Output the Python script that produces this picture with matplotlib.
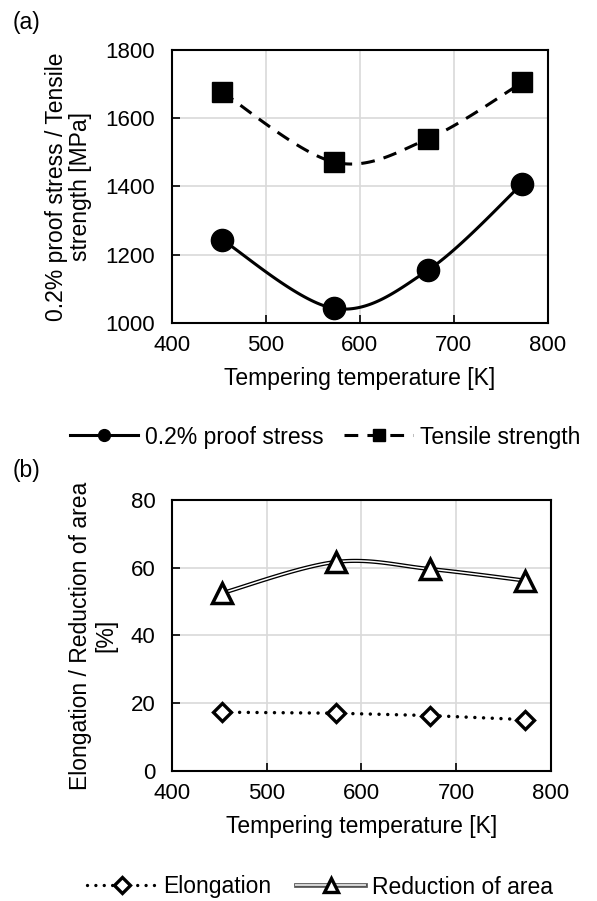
import numpy as np
import matplotlib
matplotlib.use("Agg")
import matplotlib.pyplot as plt
from matplotlib.lines import Line2D
from matplotlib.legend_handler import HandlerTuple
import matplotlib.patheffects as pe

plt.rcParams['font.family'] = ['Liberation Sans', 'DejaVu Sans']

# tempering temperature [K]
temp = [453, 573, 673, 773]

# (a) strength [MPa]
proof_stress = [1244, 1042, 1155, 1408]
tensile_strength = [1677, 1471, 1540, 1705]

# (b) ductility [%]
elongation = [17.3, 17.0, 16.3, 15.1]
reduction_area = [52.5, 61.7, 59.6, 56.2]

x_ticks = [400, 500, 600, 700, 800]
xlabel = 'Tempering temperature [K]'


def smooth(x, y, n=40):
    # Bezier curve through the points with Catmull-Rom tangents (like a spreadsheet "smoothed line")
    p = np.column_stack([x, y]).astype(float)
    pts = np.vstack([p[0], p, p[-1]])
    out = []
    t = np.linspace(0, 1, n)[:, None]
    for i in range(1, len(pts) - 2):
        p0, p3 = pts[i], pts[i + 1]
        p1 = p0 + (pts[i + 1] - pts[i - 1]) / 6
        p2 = p3 - (pts[i + 2] - pts[i]) / 6
        seg = ((1 - t) ** 3) * p0 + 3 * ((1 - t) ** 2) * t * p1 + 3 * (1 - t) * t ** 2 * p2 + t ** 3 * p3
        out.append(seg if i == 1 else seg[1:])
    c = np.vstack(out)
    return c[:, 0], c[:, 1]


def style_axes(ax):
    ax.set_xlim(400, 800)
    ax.set_xticks(x_ticks)
    ax.grid(True, color='#d9d9d9', lw=1.2)
    ax.set_axisbelow(True)
    for s in ax.spines.values():
        s.set_linewidth(1.5)
    ax.tick_params(direction='in', length=6, width=1.2, labelsize=16)
    ax.tick_params(axis='x', pad=9)
    ax.tick_params(axis='y', pad=12)
    ax.set_xlabel(xlabel, fontsize=16.5, labelpad=8)


fig = plt.figure(figsize=(5.97, 9.01), dpi=100)

# ---- (a) proof stress / tensile strength
ax1 = fig.add_axes([0.2881, 0.6418, 0.6293, 0.3027])
style_axes(ax1)
ax1.set_ylim(1000, 1800)
ax1.set_yticks([1000, 1200, 1400, 1600, 1800])

sx, sy = smooth(temp, proof_stress)
ax1.plot(sx, sy, color='black', lw=2.2, zorder=3)
ax1.plot(temp, proof_stress, ls='none', marker='o', ms=16, color='black', zorder=4)

sx, sy = smooth(temp, tensile_strength)
ax1.plot(sx, sy, color='black', lw=2.2, ls=(0, (4.5, 3)), zorder=3)
ax1.plot(temp, tensile_strength, ls='none', marker='s', ms=14.5, color='black', zorder=4)

ax1.set_ylabel('0.2% proof stress / Tensile\nstrength [MPa]', fontsize=16.5, linespacing=1.05)
ax1.yaxis.set_label_coords(-0.213, 0.5)

h1 = Line2D([], [], color='black', lw=2.2, marker='o', ms=8.5)
h2 = Line2D([], [], color='black', lw=2.2, ls=(0, (4.5, 3)), marker='s', ms=8)
fig.legend([h1, h2], ['0.2% proof stress', 'Tensile strength'],
           loc='center', bbox_to_anchor=(325 / 597, 1 - 437 / 901), ncol=2,
           frameon=False, fontsize=16.5, handlelength=3.0, handletextpad=0.3,
           columnspacing=0.9, borderpad=0, borderaxespad=0)

fig.text(13 / 597, 1 - 23 / 901, '(a)', fontsize=16.5, va='center', ha='left')

# ---- (b) elongation / reduction of area
ax2 = fig.add_axes([0.2881, 0.1446, 0.6343, 0.3004])
style_axes(ax2)
ax2.set_ylim(0, 80)
ax2.set_yticks([0, 20, 40, 60, 80])

dots = (0, (0.01, 2.5))
ax2.plot(temp, elongation, color='black', lw=2.5, ls=dots, dash_capstyle='round', zorder=3)
ax2.plot(temp, elongation, ls='none', marker='D', ms=9, mfc='white', mec='black', mew=2.4, zorder=4)

double = [pe.Stroke(linewidth=3.0, foreground='black'), pe.Normal()]
sx, sy = smooth(temp, reduction_area)
ax2.plot(sx, sy, color='white', lw=1.1, path_effects=double, zorder=3)
ax2.plot(temp, reduction_area, ls='none', marker='^', ms=14.5, mfc='white', mec='black', mew=2.5, zorder=4)

ax2.set_ylabel('Elongation / Reduction of area\n[%]', fontsize=16.5, linespacing=1.15)
ax2.yaxis.set_label_coords(-0.143, 0.5)

h3 = Line2D([], [], color='black', lw=2.4, ls=dots, dash_capstyle='round',
            marker='D', ms=8, mfc='white', mec='black', mew=2.4)
h4a = Line2D([], [], color='#d8d8d8', lw=1.4,
             path_effects=[pe.Stroke(linewidth=3.4, foreground='#555555'), pe.Normal()])
h4b = Line2D([], [], ls='none', marker='^', ms=10.5, mfc='white', mec='black', mew=2.4)
fig.legend([h3, (h4a, h4b)], ['Elongation', 'Reduction of area'],
           handler_map={tuple: HandlerTuple(ndivide=1)},
           loc='center', bbox_to_anchor=(320 / 597, 1 - 887 / 901), ncol=2,
           frameon=False, fontsize=16.5, handlelength=3.0, handletextpad=0.3,
           columnspacing=1.1, borderpad=0, borderaxespad=0)

fig.text(13 / 597, 1 - 470 / 901, '(b)', fontsize=16.5, va='center', ha='left')

fig.savefig('out.png', dpi=100, facecolor='white')
